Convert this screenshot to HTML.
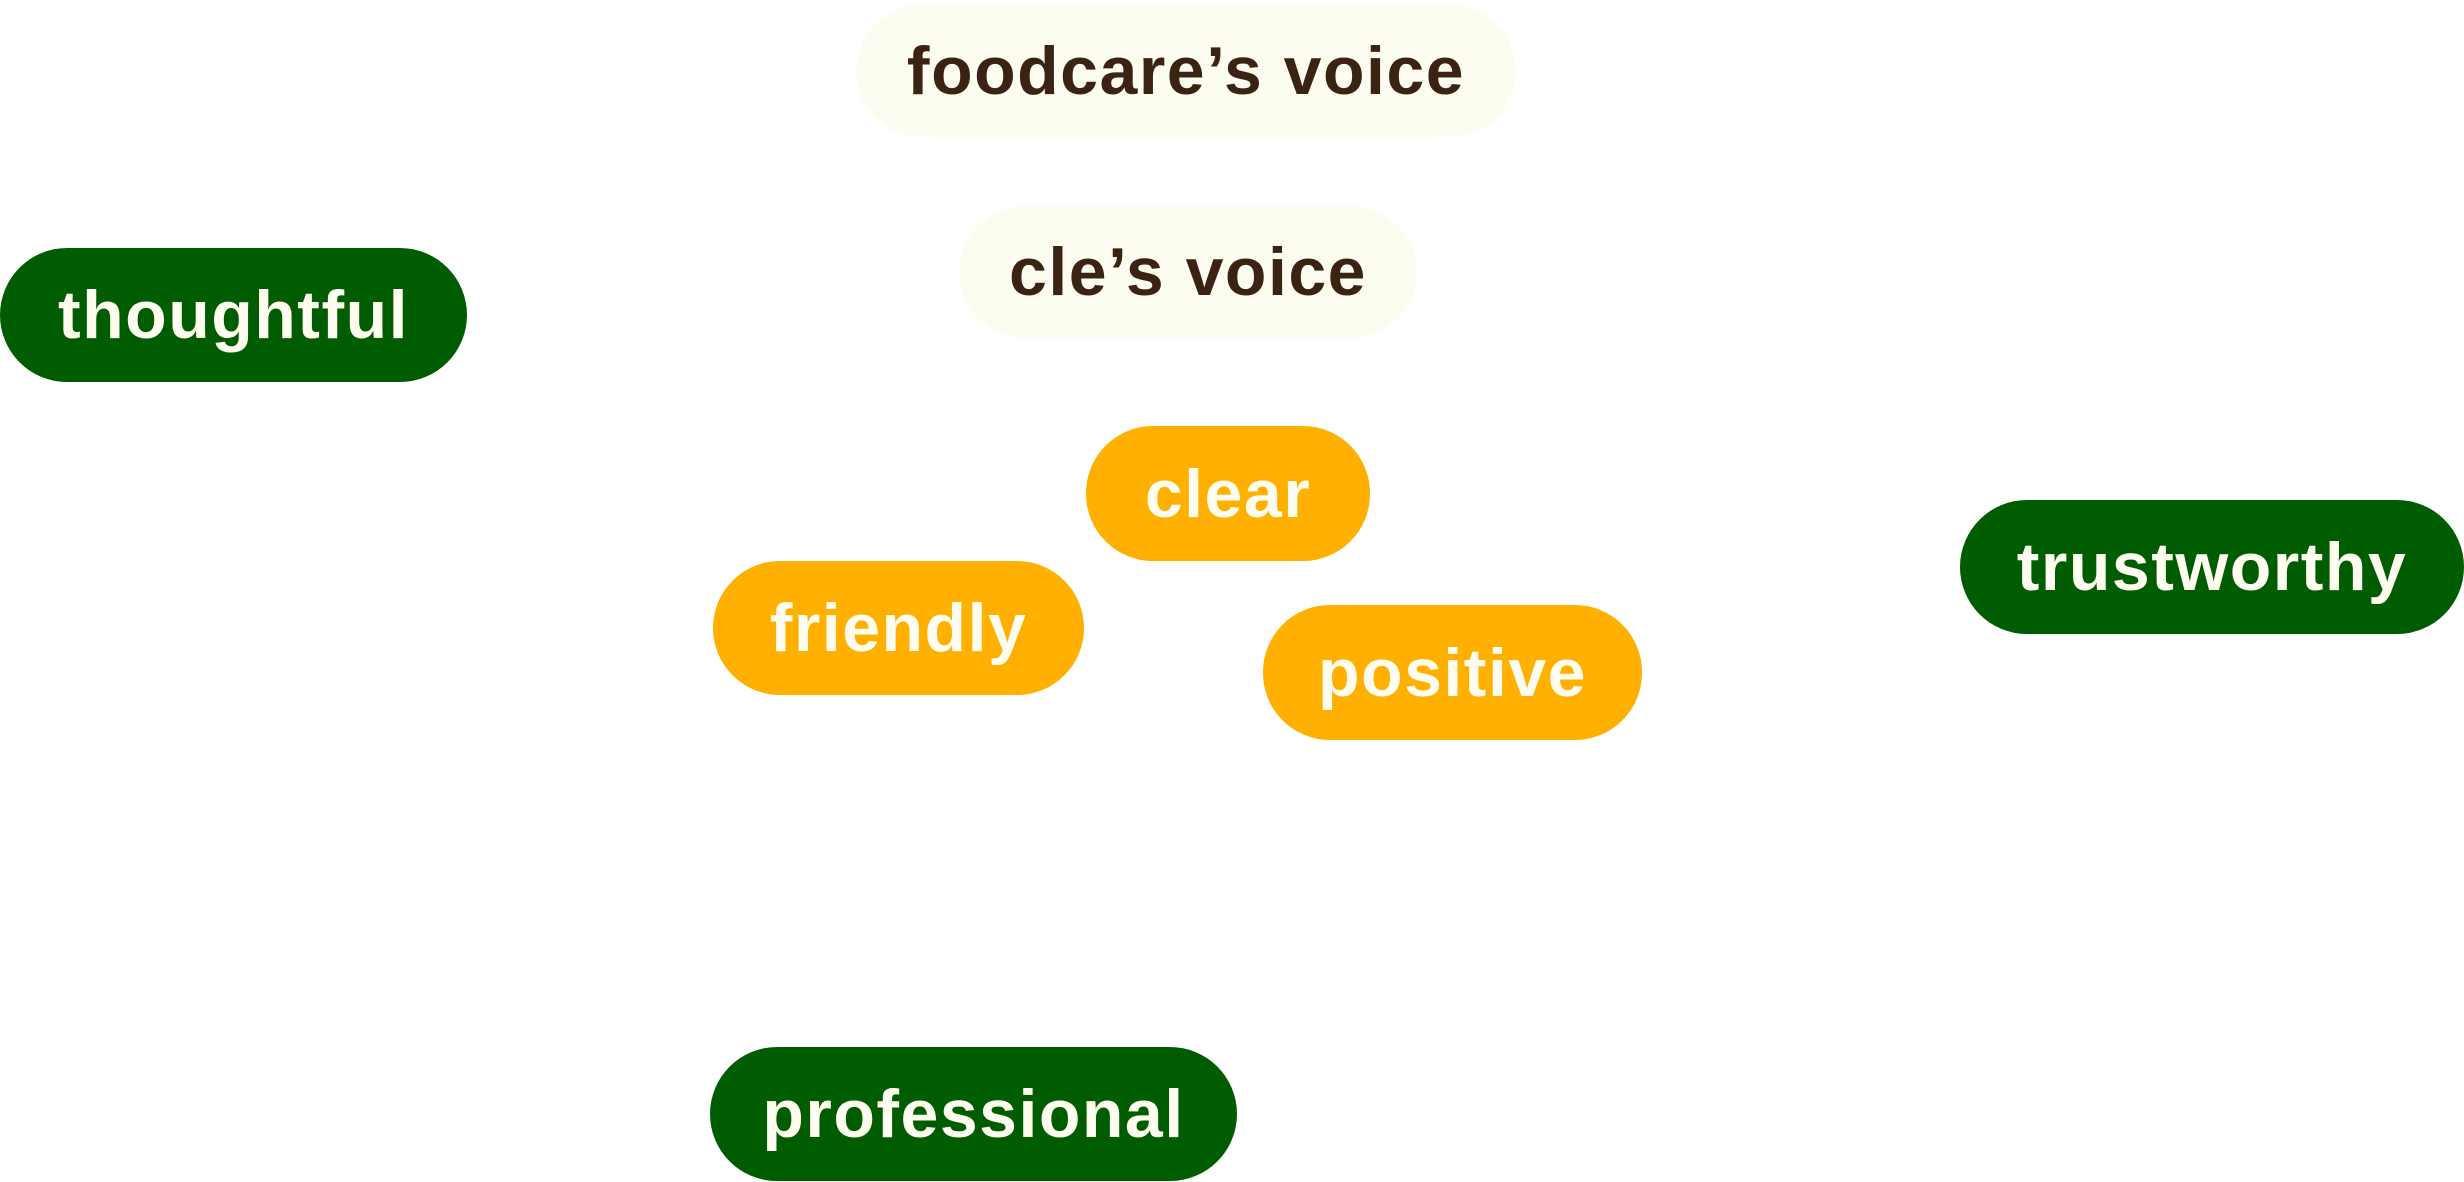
<!DOCTYPE html>
<html><head><meta charset="utf-8"><style>
html,body{margin:0;padding:0;background:#fff;}
body{width:2464px;height:1182px;position:relative;overflow:hidden;font-family:"Liberation Sans",sans-serif;}
.p{position:absolute;display:flex;align-items:center;justify-content:center;font-weight:bold;font-size:68px;letter-spacing:1.5px;box-sizing:border-box;}
.c{background:#fdfcf1;color:#3b2314;}
.g{background:#005c00;color:#fffdf0;}
.o{background:#ffb000;color:#fffdf0;}
</style></head><body>
<div class="p c" style="left:856px;top:5px;width:660px;height:132px;border-radius:66px;">foodcare’s voice</div>
<div class="p c" style="left:959px;top:206px;width:458px;height:132px;border-radius:66px;">cle’s voice</div>
<div class="p g" style="left:0px;top:248px;width:467px;height:134px;border-radius:67px;">thoughtful</div>
<div class="p o" style="left:1086px;top:426px;width:284px;height:135px;border-radius:67px;">clear</div>
<div class="p g" style="left:1960px;top:500px;width:504px;height:134px;border-radius:67px;">trustworthy</div>
<div class="p o" style="left:713px;top:561px;width:371px;height:134px;border-radius:67px;">friendly</div>
<div class="p o" style="left:1263px;top:605px;width:379px;height:135px;border-radius:67px;">positive</div>
<div class="p g" style="left:710px;top:1047px;width:527px;height:134px;border-radius:67px;">professional</div>
</body></html>
